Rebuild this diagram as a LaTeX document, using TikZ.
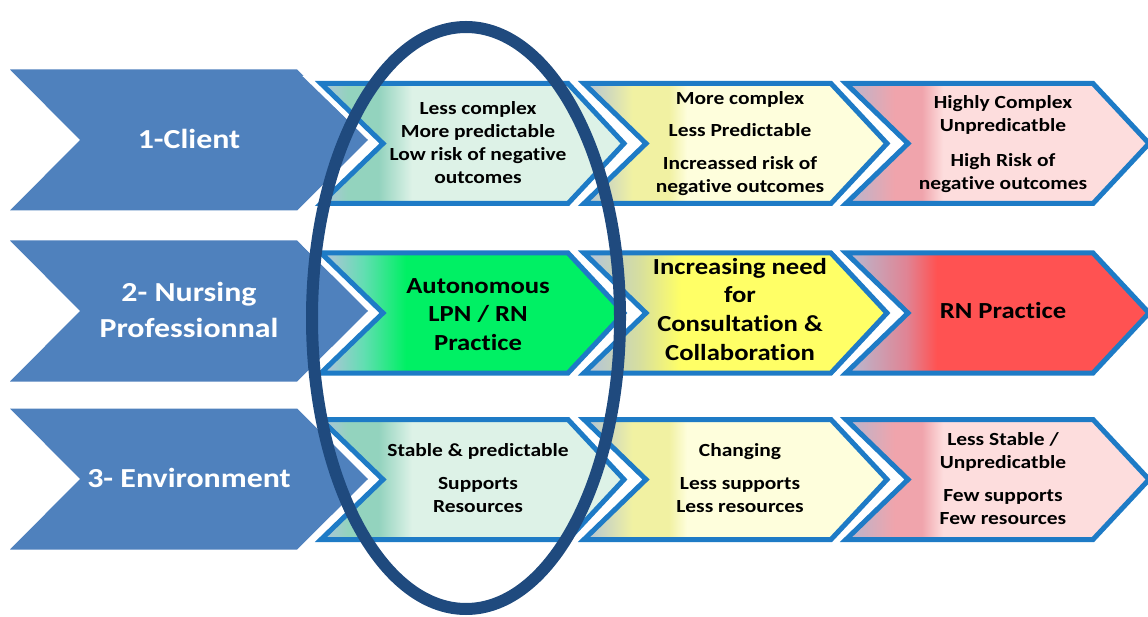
\documentclass[tikz,border=0pt]{standalone}
\usepackage{fontspec}
\setmainfont{Carlito}[FakeStretch=1.16, Ligatures=NoCommon]
\definecolor{bigblue}{HTML}{4F81BD}
\definecolor{edgeblue}{HTML}{1E7BC6}
\definecolor{ringblue}{HTML}{1F4A7E}
\definecolor{gbA}{HTML}{A8C6D4}
\definecolor{tealA}{HTML}{93D3BE}
\definecolor{mintA}{HTML}{DDF2E7}
\definecolor{gbY}{HTML}{B8C8D0}
\definecolor{ylwA}{HTML}{F1F1A2}
\definecolor{ylwP}{HTML}{FEFEDC}
\definecolor{gbR}{HTML}{BCB4CA}
\definecolor{pinkA}{HTML}{F0A4AC}
\definecolor{pinkP}{HTML}{FDDDDD}
\definecolor{grnB}{HTML}{00F064}
\definecolor{grnM}{HTML}{62DEB2}
\definecolor{ylwB}{HTML}{FFFF66}
\definecolor{ylwM}{HTML}{D6DEA0}
\definecolor{redB}{HTML}{FF5252}
\definecolor{redM}{HTML}{E08494}
\pgfdeclarehorizontalshading{shGL}{100bp}{color(0bp)=(gbA); color(26bp)=(gbA); color(29.5bp)=(tealA); color(34.5bp)=(tealA); color(40bp)=(mintA); color(100bp)=(mintA)}
\pgfdeclarehorizontalshading{shYL}{100bp}{color(0bp)=(gbY); color(26bp)=(gbY); color(33bp)=(ylwA); color(39bp)=(ylwA); color(42bp)=(ylwP); color(100bp)=(ylwP)}
\pgfdeclarehorizontalshading{shRL}{100bp}{color(0bp)=(gbR); color(26bp)=(gbR); color(33bp)=(pinkA); color(37.5bp)=(pinkA); color(41bp)=(pinkP); color(100bp)=(pinkP)}
\pgfdeclarehorizontalshading{shGB}{100bp}{color(0bp)=(gbA); color(26.5bp)=(gbA); color(32bp)=(grnM); color(39bp)=(grnB); color(100bp)=(grnB)}
\pgfdeclarehorizontalshading{shYB}{100bp}{color(0bp)=(gbY); color(27bp)=(gbY); color(34bp)=(ylwM); color(41bp)=(ylwB); color(100bp)=(ylwB)}
\pgfdeclarehorizontalshading{shRB}{100bp}{color(0bp)=(gbR); color(26.5bp)=(gbR); color(35bp)=(redM); color(40bp)=(redB); color(100bp)=(redB)}
\newcommand\chevpath[2]{(#1,#2-60) -- (#1+247,#2-60) -- (#1+303,#2) -- (#1+247,#2+60) -- (#1,#2+60) -- (#1+62,#2) -- cycle}
\newcommand\smallchev[3]{%
  \draw[white, line width=15pt] \chevpath{#1}{#2};
  \path[shade, shading=#3, draw=edgeblue, line width=5pt] \chevpath{#1}{#2};
}
\newcommand\bigchev[1]{\fill[bigblue] (10,#1-70.5) -- (297,#1-70.5) -- (368,#1) -- (297,#1+70.5) -- (10,#1+70.5) -- (80,#1) -- cycle;}
\newcommand\sz{\rule[-0.2em]{0pt}{1em}}
\tikzset{
  bigtxt/.style={text=white, font=\fontsize{27.5}{35.4}\selectfont\bfseries, align=center, inner sep=0pt},
  smtxt/.style={text=black, font=\fontsize{18.5}{22.8}\selectfont\bfseries, align=center, inner sep=0pt},
  mdtxt/.style={text=black, font=\fontsize{23}{28.8}\selectfont\bfseries, align=center, inner sep=0pt},
  ring/.style={draw=ringblue, line width=12pt}
}
\begin{document}
\begin{tikzpicture}[x=1pt,y=-1pt]
\useasboundingbox (0,0) rectangle (1148,617);
\fill[white] (0,0) rectangle (1148,617);
% big chevrons
\bigchev{140}
\bigchev{311}
\bigchev{479}
% row 1
\smallchev{321}{143.5}{shGL}
\smallchev{584}{143.5}{shYL}
\smallchev{846}{143.5}{shRL}
% row 2
\smallchev{321}{313}{shGB}
\smallchev{584}{313}{shYB}
\smallchev{846}{313}{shRB}
% row 3
\smallchev{321}{479.5}{shGL}
\smallchev{584}{479.5}{shYL}
\smallchev{846}{479.5}{shRL}
% labels
\node[bigtxt] (b1) at (189,139.8) {\sz 1-Client};
\node[bigtxt] (b2) at (189,311.3) {\sz 2- Nursing\\\sz Professionnal};
\node[bigtxt] (b3) at (189,479) {\sz 3- Environment};
\node[smtxt] (g1) at (478,143.6) {\sz Less complex\\\sz More predictable\\\sz Low risk of negative\\\sz outcomes};
\node[smtxt] (y1) at (740,142.8) {\sz More complex\\[10pt]\sz Less Predictable\\[10pt]\sz Increassed risk of\\\sz negative outcomes};
\node[smtxt] (r1) at (1003,143.6) {\sz Highly Complex\\\sz Unpredicatble\\[12pt]\sz High Risk of\\\sz negative outcomes};
\node[mdtxt] (g2) at (478,315.1) {\sz Autonomous\\\sz LPN / RN\\\sz Practice};
\node[mdtxt] (y2) at (740,310.5) {\sz Increasing need\\\sz for\\\sz Consultation \&\\\sz Collaboration};
\node[mdtxt] (r2) at (1003,311.4) {\sz RN Practice};
\node[smtxt] (g3) at (478,479.1) {\sz Stable \& predictable\\[10pt]\sz Supports\\\sz Resources};
\node[smtxt] (y3) at (740,479.1) {\sz Changing\\[10pt]\sz Less supports\\\sz Less resources};
\node[smtxt] (r3) at (1003,479.5) {\sz Less Stable /\\\sz Unpredicatble\\[11pt]\sz Few supports\\\sz Few resources};
% ring
\draw[ring] (466,318) ellipse [x radius=154pt, y radius=291pt];
\end{tikzpicture}
\end{document}
